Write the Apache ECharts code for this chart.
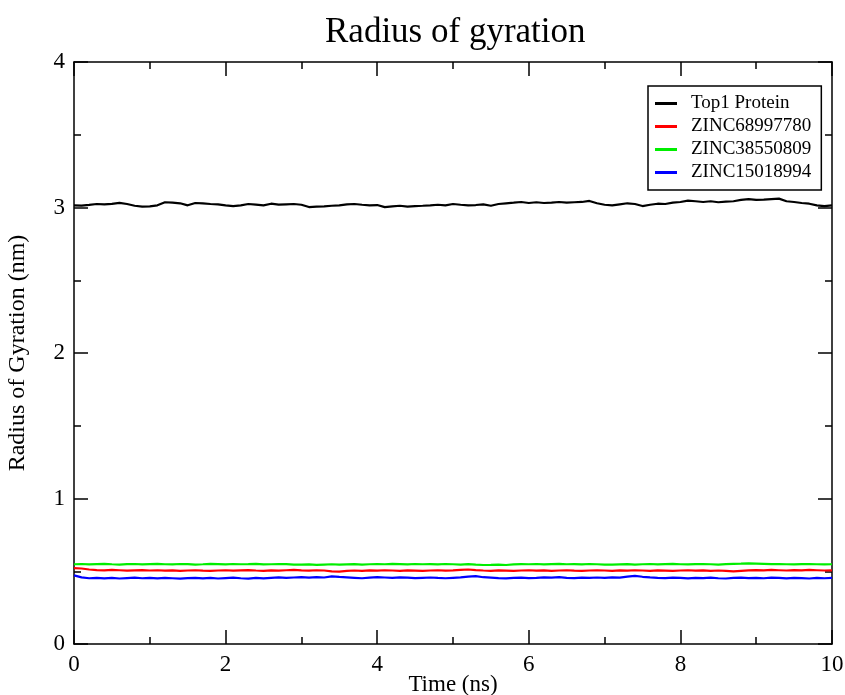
<!DOCTYPE html>
<html>
<head>
<meta charset="utf-8">
<script src="https://cdn.jsdelivr.net/npm/echarts@6/dist/echarts.min.js"></script>
<style>html,body{margin:0;padding:0;background:#fff}#c{width:845px;height:695px}</style>
</head>
<body>
<div id="c"></div>
<script>
var seriesNames = ['Top1 Protein', 'ZINC68997780', 'ZINC38550809', 'ZINC15018994'];
var xTicks = [0, 2, 4, 6, 8, 10];
var yTicks = [0, 1, 2, 3, 4];

var timeNs = [
 0.0,0.1,0.2,0.3,0.4,0.5,0.6,0.7,0.8,0.9,
 1.0,1.1,1.2,1.3,1.4,1.5,1.6,1.7,1.8,1.9,
 2.0,2.1,2.2,2.3,2.4,2.5,2.6,2.7,2.8,2.9,
 3.0,3.1,3.2,3.3,3.4,3.5,3.6,3.7,3.8,3.9,
 4.0,4.1,4.2,4.3,4.4,4.5,4.6,4.7,4.8,4.9,
 5.0,5.1,5.2,5.3,5.4,5.5,5.6,5.7,5.8,5.9,
 6.0,6.1,6.2,6.3,6.4,6.5,6.6,6.7,6.8,6.9,
 7.0,7.1,7.2,7.3,7.4,7.5,7.6,7.7,7.8,7.9,
 8.0,8.1,8.2,8.3,8.4,8.5,8.6,8.7,8.8,8.9,
 9.0,9.1,9.2,9.3,9.4,9.5,9.6,9.7,9.8,9.9,
 10.0
];

var top1Protein = [
 3.015,3.013,3.018,3.024,3.022,3.025,3.032,3.024,3.012,3.006,
 3.008,3.015,3.036,3.034,3.029,3.015,3.031,3.028,3.024,3.022,
 3.015,3.010,3.015,3.024,3.020,3.015,3.026,3.020,3.022,3.024,
 3.019,3.003,3.006,3.008,3.012,3.015,3.022,3.024,3.019,3.015,
 3.017,3.003,3.008,3.012,3.006,3.010,3.012,3.015,3.019,3.015,
 3.024,3.019,3.015,3.017,3.022,3.012,3.024,3.029,3.033,3.038,
 3.031,3.036,3.031,3.033,3.038,3.033,3.036,3.038,3.045,3.029,
 3.019,3.015,3.022,3.029,3.024,3.010,3.019,3.026,3.024,3.033,
 3.038,3.047,3.043,3.038,3.043,3.036,3.040,3.043,3.052,3.058,
 3.052,3.054,3.058,3.061,3.043,3.038,3.031,3.026,3.015,3.010,
 3.015
];

var zinc68997780 = [
 0.521,0.519,0.512,0.508,0.506,0.509,0.507,0.504,0.506,0.508,
 0.505,0.507,0.504,0.506,0.503,0.505,0.507,0.504,0.502,0.505,
 0.507,0.504,0.506,0.508,0.505,0.503,0.506,0.504,0.507,0.509,
 0.506,0.504,0.507,0.505,0.499,0.497,0.502,0.505,0.503,0.506,
 0.504,0.507,0.505,0.503,0.506,0.504,0.502,0.505,0.507,0.504,
 0.506,0.509,0.512,0.508,0.505,0.503,0.506,0.504,0.502,0.505,
 0.507,0.504,0.506,0.503,0.505,0.507,0.504,0.502,0.505,0.507,
 0.505,0.503,0.506,0.504,0.507,0.505,0.503,0.506,0.504,0.502,
 0.505,0.507,0.504,0.506,0.503,0.505,0.502,0.499,0.503,0.506,
 0.508,0.506,0.509,0.507,0.505,0.508,0.506,0.509,0.507,0.505,
 0.506
];

var zinc38550809 = [
 0.548,0.550,0.547,0.549,0.551,0.548,0.546,0.549,0.550,0.547,
 0.549,0.551,0.548,0.547,0.550,0.549,0.546,0.548,0.551,0.549,
 0.547,0.550,0.548,0.549,0.551,0.547,0.548,0.550,0.549,0.546,
 0.545,0.547,0.544,0.546,0.548,0.545,0.547,0.549,0.546,0.548,
 0.550,0.548,0.551,0.549,0.547,0.550,0.548,0.549,0.547,0.550,
 0.548,0.546,0.549,0.545,0.543,0.544,0.546,0.543,0.547,0.549,
 0.548,0.550,0.547,0.549,0.551,0.548,0.549,0.547,0.550,0.548,
 0.546,0.545,0.547,0.549,0.546,0.548,0.550,0.547,0.549,0.551,
 0.548,0.547,0.549,0.550,0.548,0.546,0.549,0.551,0.552,0.554,
 0.553,0.551,0.549,0.550,0.548,0.547,0.549,0.550,0.548,0.547,
 0.548
];

var zinc15018994 = [
 0.472,0.458,0.452,0.455,0.451,0.454,0.450,0.453,0.456,0.452,
 0.455,0.451,0.454,0.452,0.449,0.453,0.455,0.451,0.454,0.450,
 0.453,0.456,0.452,0.449,0.454,0.451,0.455,0.458,0.454,0.457,
 0.459,0.456,0.460,0.457,0.465,0.461,0.458,0.455,0.452,0.456,
 0.459,0.457,0.455,0.458,0.456,0.453,0.455,0.457,0.454,0.452,
 0.455,0.458,0.463,0.466,0.459,0.456,0.453,0.451,0.454,0.456,
 0.453,0.455,0.458,0.456,0.459,0.455,0.453,0.456,0.454,0.457,
 0.455,0.458,0.456,0.463,0.468,0.462,0.458,0.455,0.453,0.456,
 0.454,0.451,0.455,0.453,0.456,0.452,0.450,0.454,0.456,0.453,
 0.455,0.452,0.456,0.454,0.451,0.455,0.453,0.450,0.454,0.452,
 0.455
];

var seriesColors = ['#000000', '#ff0000', '#00ee00', '#0000ff'];
var seriesValues = [top1Protein, zinc68997780, zinc38550809, zinc15018994];

function pairs(xs, ys) {
  var out = [];
  for (var i = 0; i < xs.length; i++) out.push([xs[i], ys[i]]);
  return out;
}

var FONT = 'Liberation Serif, Times New Roman, serif';
var tickStyle = {color: '#000', width: 1.5};

function xAx(pos, showLabels) {
  return {
    type: 'value', position: pos, min: xTicks[0], max: xTicks[xTicks.length - 1], interval: 2,
    name: showLabels ? 'Time (ns)' : '', nameLocation: 'middle', nameGap: 29, nameMoveOverlap: false,
    nameTextStyle: {fontFamily: FONT, fontSize: 23, color: '#000'},
    axisLine: {show: true, onZero: false, lineStyle: {color: '#000', width: 1.5}},
    axisTick: {show: true, inside: true, length: 14, lineStyle: tickStyle},
    minorTick: {show: true, splitNumber: 2, length: 7, lineStyle: tickStyle},
    axisLabel: {show: showLabels, margin: 9, fontFamily: FONT, fontSize: 23, color: '#000'},
    splitLine: {show: false}, minorSplitLine: {show: false}
  };
}
function yAx(pos, showLabels) {
  return {
    type: 'value', position: pos, min: yTicks[0], max: yTicks[yTicks.length - 1], interval: 1,
    name: showLabels ? 'Radius of Gyration (nm)' : '', nameLocation: 'middle', nameGap: 44, nameMoveOverlap: false,
    nameTextStyle: {fontFamily: FONT, fontSize: 24, color: '#000'},
    axisLine: {show: true, onZero: false, lineStyle: {color: '#000', width: 1.5}},
    axisTick: {show: true, inside: true, length: 14, lineStyle: tickStyle},
    minorTick: {show: true, splitNumber: 2, length: 7, lineStyle: tickStyle},
    axisLabel: {show: showLabels, margin: 9, fontFamily: FONT, fontSize: 23, color: '#000'},
    splitLine: {show: false}, minorSplitLine: {show: false}
  };
}

var series = seriesNames.map(function (n, i) {
  return {
    name: n, type: 'line', xAxisIndex: 0, yAxisIndex: 0,
    data: pairs(timeNs, seriesValues[i]),
    showSymbol: false, symbol: 'none', smooth: false,
    lineStyle: {color: seriesColors[i], width: 2.2},
    itemStyle: {color: seriesColors[i]},
    z: 10 - i
  };
});

var chart = echarts.init(document.getElementById('c'), null, {renderer: 'canvas'});
chart.setOption({
  animation: false,
  backgroundColor: '#ffffff',
  title: {
    text: 'Radius of gyration', left: 320, top: 10,
    textStyle: {fontFamily: FONT, fontSize: 35, fontWeight: 'normal', color: '#000'}
  },
  legend: {
    orient: 'vertical', left: 648, top: 86,
    backgroundColor: '#fff', borderColor: '#000', borderWidth: 1.5,
    padding: [8, 10, 8, 7], itemGap: 4, itemWidth: 22, itemHeight: 3, icon: 'rect',
    textStyle: {fontFamily: FONT, fontSize: 19, lineHeight: 19, color: '#000', padding: [0, 0, 0, 9]},
    data: seriesNames
  },
  grid: {left: 74, right: 13, top: 62, bottom: 51, containLabel: false, outerBoundsMode: 'none'},
  xAxis: [xAx('bottom', true), xAx('top', false)],
  yAxis: [yAx('left', true), yAx('right', false)],
  series: series
});
</script>
</body>
</html>
